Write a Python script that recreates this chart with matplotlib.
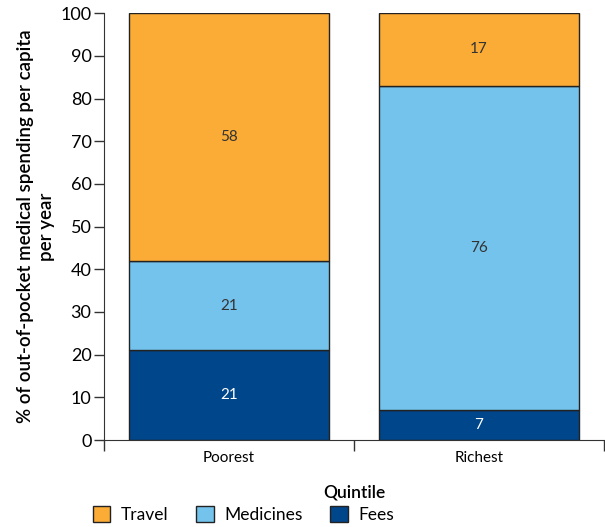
import matplotlib.pyplot as plt
import numpy as np

plt.rcParams["font.family"] = ["Lato", "DejaVu Sans"]

quintiles = ["Poorest", "Richest"]
fees = [21, 7]
medicines = [21, 76]
travel = [58, 17]

colors = {"Travel": "#FBAC36", "Medicines": "#74C3EC", "Fees": "#00468A"}
text_colors = {"Travel": "#333333", "Medicines": "#333333", "Fees": "white"}

fig = plt.figure(figsize=(6.05, 5.27), dpi=100)
ax = fig.add_axes([0.172, 0.165, 0.826, 0.81])

x = np.arange(len(quintiles))
bottom = np.zeros(len(quintiles))
for name, vals in [("Fees", fees), ("Medicines", medicines), ("Travel", travel)]:
    bars = ax.bar(x, vals, width=0.8, bottom=bottom, color=colors[name],
                  edgecolor="#222222", linewidth=1.0, label=name)
    for xi, b, v in zip(x, bottom, vals):
        ax.text(xi, b + v / 2, str(v), ha="center", va="center",
                fontsize=11, color=text_colors[name])
    bottom += vals

ax.set_xlim(-0.5, 1.5)
ax.set_ylim(0, 100)
ax.set_yticks(range(0, 101, 10))
ax.set_xticks([-0.5, 0.5, 1.5])
ax.set_xticklabels([])
ax.set_xticks(x, minor=True)
ax.set_xticklabels(quintiles, minor=True)
ax.tick_params(axis="x", which="minor", length=0, pad=8, labelsize=11)
ax.tick_params(axis="x", which="major", length=8, width=1, color="#333333")
ax.tick_params(axis="y", length=7, width=1, color="#333333", labelsize=13, pad=2)
for s in ["top", "right"]:
    ax.spines[s].set_visible(False)
for s in ["left", "bottom"]:
    ax.spines[s].set_color("#333333")

ax.set_ylabel("% of out-of-pocket medical spending per capita\nper year",
              fontsize=13.5, fontweight="semibold", labelpad=4, linespacing=1.25)
ax.set_xlabel("Quintile", fontsize=12.5, fontweight="semibold", labelpad=14)

handles, labels = ax.get_legend_handles_labels()
fig.legend(handles[::-1], labels[::-1], loc="lower left", bbox_to_anchor=(0.128, -0.022),
           ncol=3, frameon=False, fontsize=12.5, handlelength=1.0, handleheight=1.0,
           columnspacing=1.6, handletextpad=0.6)

fig.savefig("out.png", dpi=100)
